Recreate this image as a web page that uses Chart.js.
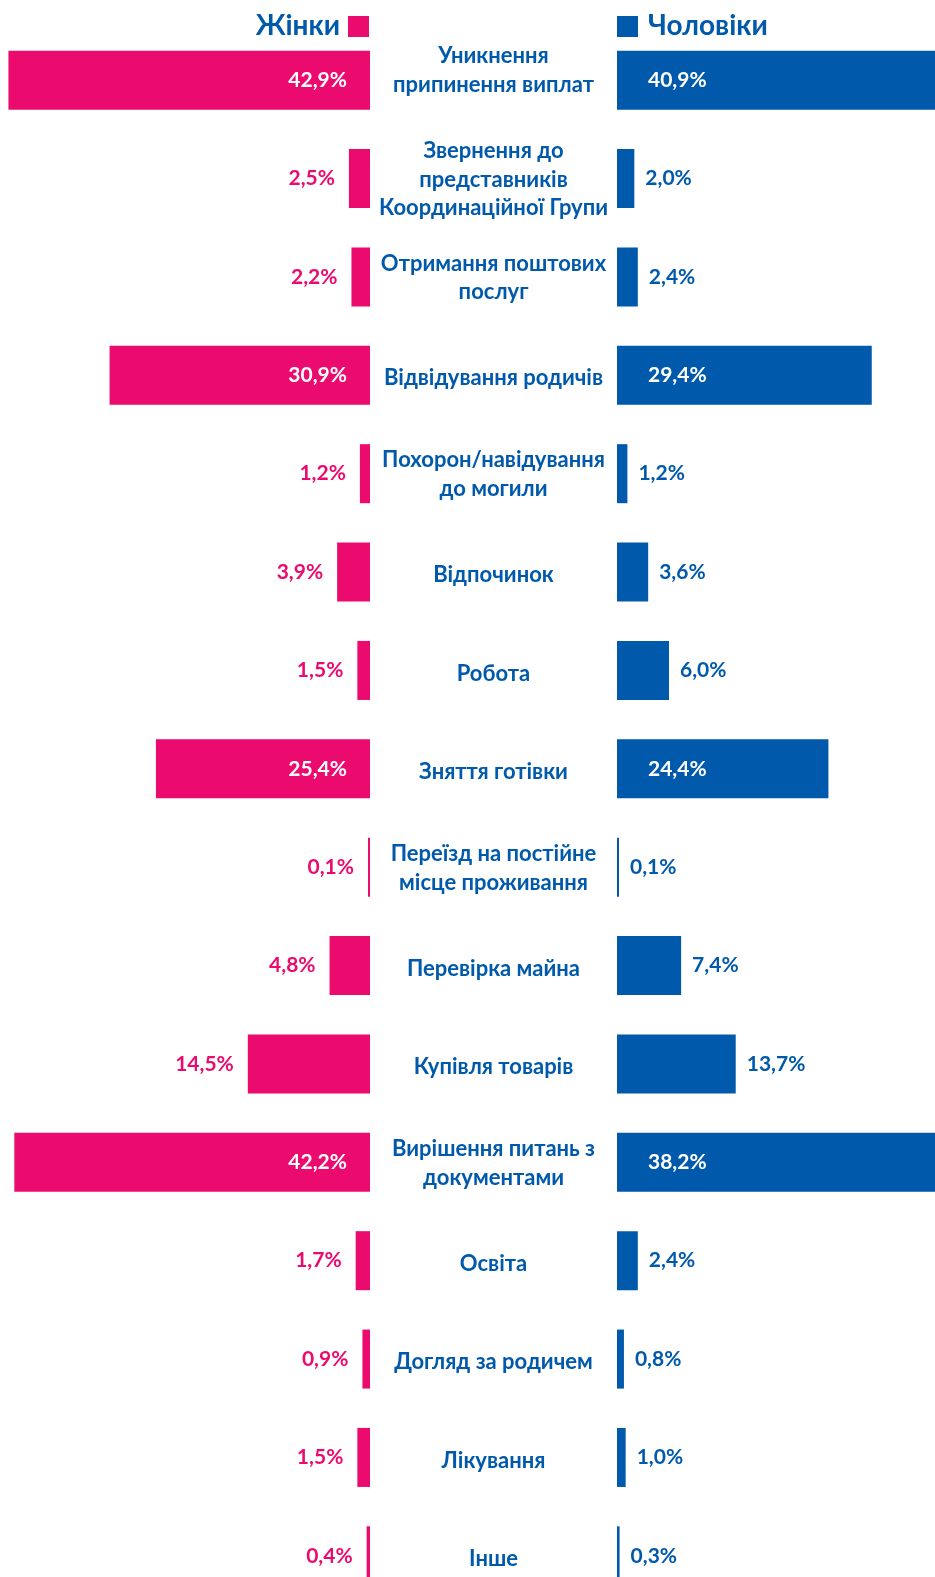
<!DOCTYPE html>
<html>
<head>
<meta charset="utf-8">
<script src="https://cdn.jsdelivr.net/npm/chart.js@4"></script>
<style>
html, body { margin: 0; padding: 0; background: #fff; overflow: hidden; width: 935px; height: 1577px; }
#wrap { position: relative; width: 935px; height: 1605px; }
#left { position: absolute; left: 0; top: 0; }
#right { position: absolute; left: 370px; top: 0; }
.hdr { position: absolute; top: 4px; font: bold 28px Lato, sans-serif; color: #0059aa; line-height: 40px; white-space: nowrap; }
.sq { position: absolute; top: 16px; width: 21px; height: 21px; }
</style>
</head>
<body>
<div id="wrap">
  <canvas id="left" width="370" height="1605"></canvas>
  <canvas id="right" width="565" height="1605"></canvas>
  <div class="hdr" style="right:595px">Жінки</div>
  <div class="sq" style="left:348px;background:#eb0b6e"></div>
  <div class="sq" style="left:617px;background:#0059aa"></div>
  <div class="hdr" style="left:648px">Чоловіки</div>
</div>
<script>
// категорії (центральна колонка)
var categories = [
    ['Уникнення', 'припинення виплат'],
    ['Звернення до', 'представників', 'Координаційної Групи'],
    ['Отримання поштових', 'послуг'],
    ['Відвідування родичів'],
    ['Похорон/навідування', 'до могили'],
    ['Відпочинок'],
    ['Робота'],
    ['Зняття готівки'],
    ['Переїзд на постійне', 'місце проживання'],
    ['Перевірка майна'],
    ['Купівля товарів'],
    ['Вирішення питань з', 'документами'],
    ['Освіта'],
    ['Догляд за родичем'],
    ['Лікування'],
    ['Інше']
];
var women = [42.9, 2.5, 2.2, 30.9, 1.2, 3.9, 1.5, 25.4, 0.1, 4.8, 14.5, 42.2, 1.7, 0.9, 1.5, 0.4];
var men = [40.9, 2.0, 2.4, 29.4, 1.2, 3.6, 6.0, 24.4, 0.1, 7.4, 13.7, 38.2, 2.4, 0.8, 1.0, 0.3];

var PINK = '#eb0b6e';
var BLUE = '#0059aa';

function fmt(v) {
    return v.toFixed(1).replace('.', ',') + '%';
}

// підписи значень біля/всередині стовпців
var valueLabels = {
    id: 'valueLabels',
    afterDatasetsDraw: function(chart, args, opts) {
        var ctx = chart.ctx;
        var meta = chart.getDatasetMeta(0);
        var vals = chart.data.datasets[0].data;
        ctx.save();
        ctx.font = 'bold 21px Lato, sans-serif';
        ctx.textBaseline = 'middle';
        meta.data.forEach(function(bar, i) {
            var v = vals[i];
            var inside = v >= 20;
            ctx.fillStyle = inside ? '#fff' : opts.color;
            if (opts.side === 'left') {
                ctx.textAlign = 'right';
                ctx.fillText(fmt(v), inside ? bar.base - 23 : bar.x - 14, bar.y);
            } else {
                ctx.textAlign = 'left';
                ctx.fillText(fmt(v), inside ? bar.base + 31 : bar.x + 11, bar.y);
            }
        });
        ctx.restore();
    }
};

// назви категорій по центру
var centerLabels = {
    id: 'centerLabels',
    afterDraw: function(chart) {
        var ctx = chart.ctx;
        var yScale = chart.scales.y;
        var cx = chart.chartArea.left - 123.5;
        ctx.save();
        ctx.font = 'bold 22px Lato, sans-serif';
        ctx.fillStyle = BLUE;
        ctx.textAlign = 'center';
        ctx.textBaseline = 'middle';
        chart.data.labels.forEach(function(lines, i) {
            var y = yScale.getPixelForValue(i);
            var lh = 28.7;
            // перший підпис у оригіналі трохи вище, однорядкові трохи нижче
            var shift = i === 0 ? -10 : (lines.length === 1 ? 3 : 1);
            var y0 = y + shift - (lines.length - 1) * lh / 2;
            lines.forEach(function(line, j) {
                ctx.fillText(line, cx, y0 + j * lh);
            });
        });
        ctx.restore();
    }
};

function makeChart(id, data, color, side) {
    var ctx = document.getElementById(id).getContext('2d');
    return new Chart(ctx, {
        type: 'bar',
        data: {
            labels: categories,
            datasets: [{
                data: data,
                backgroundColor: color,
                borderWidth: 0,
                barPercentage: 0.6,
                categoryPercentage: 1.0,
                minBarLength: 2
            }]
        },
        options: {
            indexAxis: 'y',
            responsive: false,
            animation: false,
            layout: {
                padding: side === 'left' ? { top: 31 } : { top: 31, left: 247 }
            },
            scales: {
                x: {
                    display: false,
                    reverse: side === 'left',
                    min: 0,
                    max: side === 'left' ? 43.9 : 36.7
                },
                y: { display: false }
            },
            plugins: {
                legend: { display: false },
                tooltip: { enabled: false },
                valueLabels: { side: side, color: color }
            }
        },
        plugins: side === 'left' ? [valueLabels] : [valueLabels, centerLabels]
    });
}

makeChart('left', women, PINK, 'left');
makeChart('right', men, BLUE, 'right');
</script>
</body>
</html>
